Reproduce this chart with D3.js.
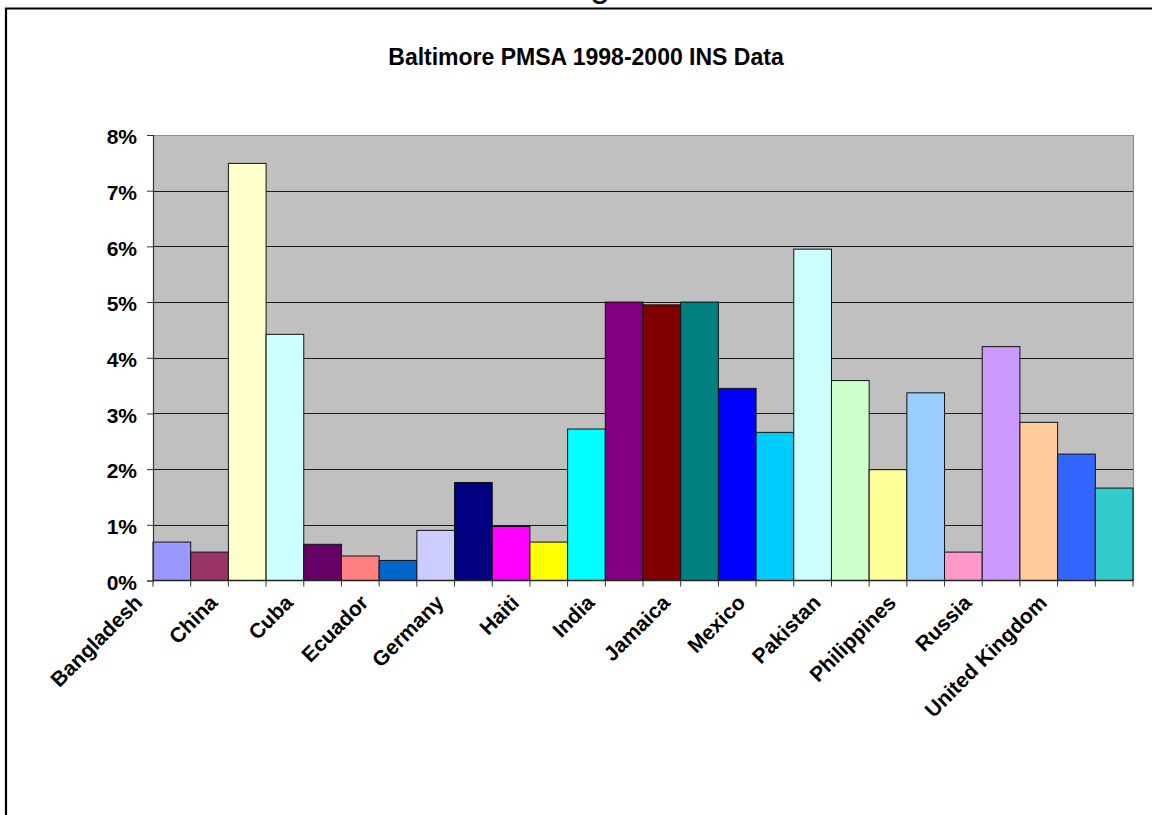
<!DOCTYPE html>
<html>
<head>
<meta charset="utf-8">
<script src="https://cdn.jsdelivr.net/npm/d3@7"></script>
<style>
  html, body { margin: 0; padding: 0; background: #ffffff; }
  svg { display: block; }
  text { font-family: "Liberation Sans", Arial, sans-serif; }
</style>
</head>
<body>
<svg id="chart" width="1152" height="815"></svg>
<script>
// Share of INS admissions by country of birth, Baltimore PMSA 1998-2000.
// Only every second category carries a printed label on the axis.
const categoryLabels = [
  "Bangladesh", "", "China", "", "Cuba", "", "Ecuador", "", "Germany", "",
  "Haiti", "", "India", "", "Jamaica", "", "Mexico", "", "Pakistan", "",
  "Philippines", "", "Russia", "", "United Kingdom", ""
];
const shares = [
  0.69, 0.51, 7.49, 4.42, 0.65, 0.44, 0.36, 0.90, 1.76, 0.97,
  0.69, 2.72, 5.00, 4.95, 5.00, 3.45, 2.66, 5.95, 3.59, 1.99,
  3.37, 0.51, 4.20, 2.84, 2.27, 1.66
];
const barColors = [
  "#9999FF", "#993366", "#FFFFCC", "#CCFFFF", "#660066", "#FF8080", "#0066CC",
  "#CCCCFF", "#000080", "#FF00FF", "#FFFF00", "#00FFFF", "#800080", "#800000",
  "#008080", "#0000FF", "#00CCFF", "#CCFFFF", "#CCFFCC", "#FFFF99", "#99CCFF",
  "#FF99CC", "#CC99FF", "#FFCC99", "#3366FF", "#33CCCC"
];
const yTicks = [0, 1, 2, 3, 4, 5, 6, 7, 8];
const chartTitle = "Baltimore PMSA 1998-2000 INS Data";

const svg = d3.select("#chart");

// page frame around the chart object
svg.append("path")
  .attr("d", "M6,815 V8.5 H1152")
  .attr("fill", "none")
  .attr("stroke", "#000")
  .attr("stroke-width", 2.2);

// descender of the caption line above the frame
svg.append("text")
  .attr("x", 590).attr("y", -4)
  .attr("font-size", 36)
  .text("g");

const plot = { left: 153, right: 1133, top: 135, bottom: 580.5 };

const x = d3.scaleBand()
  .domain(d3.range(shares.length))
  .range([plot.left, plot.right])
  .padding(0);

const y = d3.scaleLinear()
  .domain([0, 8])
  .range([plot.bottom, plot.top]);

// plot area background
svg.append("rect")
  .attr("x", plot.left).attr("y", plot.top)
  .attr("width", plot.right - plot.left)
  .attr("height", plot.bottom - plot.top)
  .attr("fill", "#C0C0C0");

// plot area border (top and right)
svg.append("path")
  .attr("d", `M${plot.left},${plot.top + 0.5} H${plot.right + 0.5} V${plot.bottom}`)
  .attr("fill", "none")
  .attr("stroke", "#8c8c8c")
  .attr("stroke-width", 1.2);

// horizontal gridlines
svg.append("g")
  .selectAll("line")
  .data(yTicks.filter(d => d > 0 && d < 8))
  .join("line")
  .attr("x1", plot.left).attr("x2", plot.right)
  .attr("y1", d => Math.round(y(d)) + 0.5)
  .attr("y2", d => Math.round(y(d)) + 0.5)
  .attr("stroke", "#1a1a1a")
  .attr("stroke-width", 1.1);

// bars
svg.append("g")
  .selectAll("rect")
  .data(shares)
  .join("rect")
  .attr("x", (d, i) => x(i))
  .attr("y", d => y(d))
  .attr("width", x.bandwidth())
  .attr("height", d => plot.bottom - y(d))
  .attr("fill", (d, i) => barColors[i])
  .attr("stroke", "#111")
  .attr("stroke-width", 1);

// y axis
const yAxis = d3.axisLeft(y)
  .tickValues(yTicks)
  .tickFormat(d => d + "%")
  .tickSize(6)
  .tickPadding(10);

const yg = svg.append("g")
  .attr("transform", `translate(${plot.left},0)`)
  .call(yAxis);
yg.select(".domain").attr("stroke", "#333").attr("stroke-width", 1.2);
yg.selectAll(".tick line").attr("stroke", "#333");
yg.selectAll(".tick text")
  .attr("font-family", "Liberation Sans, Arial, sans-serif")
  .attr("font-size", 21)
  .attr("font-weight", "bold")
  .attr("dy", "0.42em")
  .attr("fill", "#000");

// x axis: baseline and ticks at category boundaries
const boundaries = d3.range(shares.length + 1).map(i =>
  i < shares.length ? x(i) : x(i - 1) + x.bandwidth());

svg.append("line")
  .attr("x1", plot.left).attr("x2", plot.right + 0.5)
  .attr("y1", plot.bottom).attr("y2", plot.bottom)
  .attr("stroke", "#222").attr("stroke-width", 1.4);

svg.append("g")
  .selectAll("line")
  .data(boundaries)
  .join("line")
  .attr("x1", d => d).attr("x2", d => d)
  .attr("y1", plot.bottom).attr("y2", plot.bottom + 6)
  .attr("stroke", "#333");

// rotated category labels, baseline ending just left of the category's edge
svg.append("g")
  .selectAll("text")
  .data(categoryLabels.map((label, i) => ({ label, i })).filter(d => d.label))
  .join("text")
  .attr("transform", d => `translate(${x(d.i) - 9.5},604) rotate(-45)`)
  .attr("text-anchor", "end")
  .attr("font-size", 21)
  .attr("font-weight", "bold")
  .text(d => d.label);

// chart title
svg.append("text")
  .attr("x", 586).attr("y", 65)
  .attr("text-anchor", "middle")
  .attr("font-size", 23)
  .attr("font-weight", "bold")
  .text(chartTitle);
</script>
</body>
</html>
